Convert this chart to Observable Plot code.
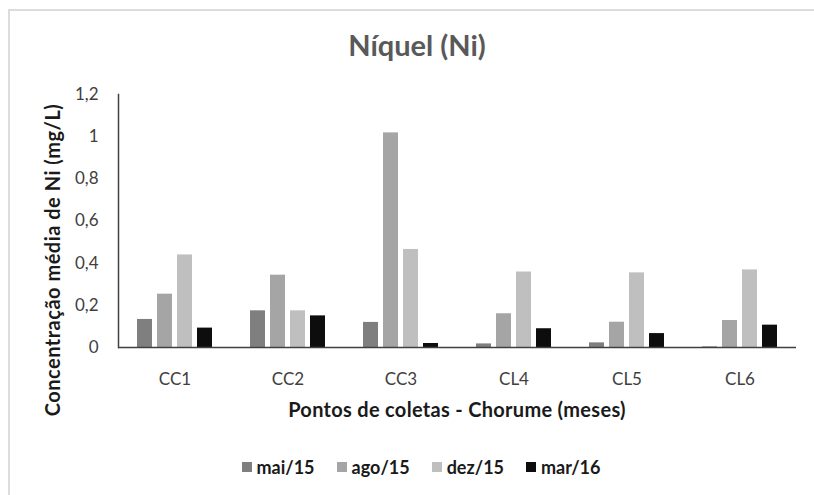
<!DOCTYPE html>
<html>
<head>
<meta charset="utf-8">
<script src="https://cdn.jsdelivr.net/npm/d3@7"></script>
<script src="https://cdn.jsdelivr.net/npm/@observablehq/plot@0.6"></script>
<style>
  html, body { margin: 0; padding: 0; background: #fff; overflow: hidden; }
  #chart { position: relative; width: 814px; height: 495px; font-family: Lato, "Noto Sans", sans-serif; }
  #border { position: absolute; left: 8px; top: 9px; width: 900px; height: 600px; border: 2px solid #dcdcdc; box-sizing: border-box; }
  #title { position: absolute; left: 0; width: 834px; top: 27px; text-align: center; font-size: 29px; font-weight: 700; color: #595959; line-height: 36px; }
  #plot { position: absolute; left: 0; top: 70px; }
  #ytitle { position: absolute; left: 52px; top: 260px; transform: translate(-50%, -50%) rotate(-90deg); white-space: nowrap; font-size: 20px; letter-spacing: 0.5px; font-weight: 700; color: #1a1a1a; }
  #xtitle { position: absolute; left: 0; width: 914px; top: 396px; text-align: center; font-size: 20px; letter-spacing: 0.3px; font-weight: 700; color: #1a1a1a; line-height: 26px; }
  #legend { position: absolute; left: 0; width: 842px; top: 455px; display: flex; justify-content: center; gap: 22px; font-size: 18px; font-weight: 700; color: #1a1a1a; line-height: 24px; }
  #legend .item { display: flex; align-items: center; gap: 5px; }
  #legend .sw { width: 10px; height: 10px; display: inline-block; }
</style>
</head>
<body>
<div id="chart">
  <div id="border"></div>
  <div id="title"></div>
  <div id="plot"></div>
  <div id="ytitle"></div>
  <div id="xtitle"></div>
  <div id="legend"></div>
</div>
<script>
// Sampling points and sampling months
const points = ["CC1", "CC2", "CC3", "CL4", "CL5", "CL6"];
const months = ["mai/15", "ago/15", "dez/15", "mar/16"];

// Mean nickel concentration (mg/L) per point, one array per month
const mai15 = [0.133, 0.174, 0.119, 0.017, 0.022, 0.003];
const ago15 = [0.253, 0.343, 1.018, 0.160, 0.120, 0.128];
const dez15 = [0.439, 0.174, 0.465, 0.358, 0.354, 0.368];
const mar16 = [0.092, 0.150, 0.019, 0.089, 0.066, 0.106];

const monthColors = ["#7f7f7f", "#a5a5a5", "#bfbfbf", "#0d0d0d"];
const yTicks = [0, 0.2, 0.4, 0.6, 0.8, 1, 1.2];

const titleText = "Níquel (Ni)";
const yTitleText = "Concentração média de Ni (mg/L)";
const xTitleText = "Pontos de coletas - Chorume (meses)";

const series = [mai15, ago15, dez15, mar16];
const rows = points.flatMap((p, i) =>
  months.map((m, j) => ({point: p, month: m, value: series[j][i]}))
);

// Decimal comma for the value axis
const fmt = d => String(d).replace(".", ",");

const chart = Plot.plot({
  width: 814,
  height: 360,
  marginTop: 24,
  marginBottom: 83,
  marginLeft: 116,
  marginRight: 16,
  style: {fontFamily: "Lato, 'Noto Sans', sans-serif", fontSize: "17px", color: "#404040", background: "transparent"},
  fx: {domain: points, padding: 0, label: null},
  x: {domain: months, axis: null, paddingInner: 0.24, paddingOuter: 0.83},
  y: {domain: [0, 1.2], label: null},
  color: {domain: months, range: monthColors},
  marks: [
    Plot.barY(rows, {fx: "point", x: "month", y: "value", fill: "month"}),
    Plot.ruleY([0], {stroke: "#404040", strokeWidth: 1.5}),
    Plot.frame({anchor: "left", facetAnchor: "left", stroke: "#404040", strokeWidth: 1.5}),
    Plot.axisY(yTicks, {tickSize: 0, tickPadding: 20, tickFormat: fmt, label: null, fontSize: 17, fill: "#404040"}),
    Plot.axisFx({anchor: "bottom", tickSize: 0, tickPadding: 25, label: null, fontSize: 17, fill: "#404040"})
  ]
});
document.getElementById("plot").appendChild(chart);

document.getElementById("title").textContent = titleText;
document.getElementById("ytitle").textContent = yTitleText;
document.getElementById("xtitle").textContent = xTitleText;

const legend = document.getElementById("legend");
months.forEach((m, j) => {
  const item = document.createElement("div");
  item.className = "item";
  const sw = document.createElement("span");
  sw.className = "sw";
  sw.style.background = monthColors[j];
  const label = document.createElement("span");
  label.textContent = m;
  item.appendChild(sw);
  item.appendChild(label);
  legend.appendChild(item);
});
</script>
</body>
</html>
